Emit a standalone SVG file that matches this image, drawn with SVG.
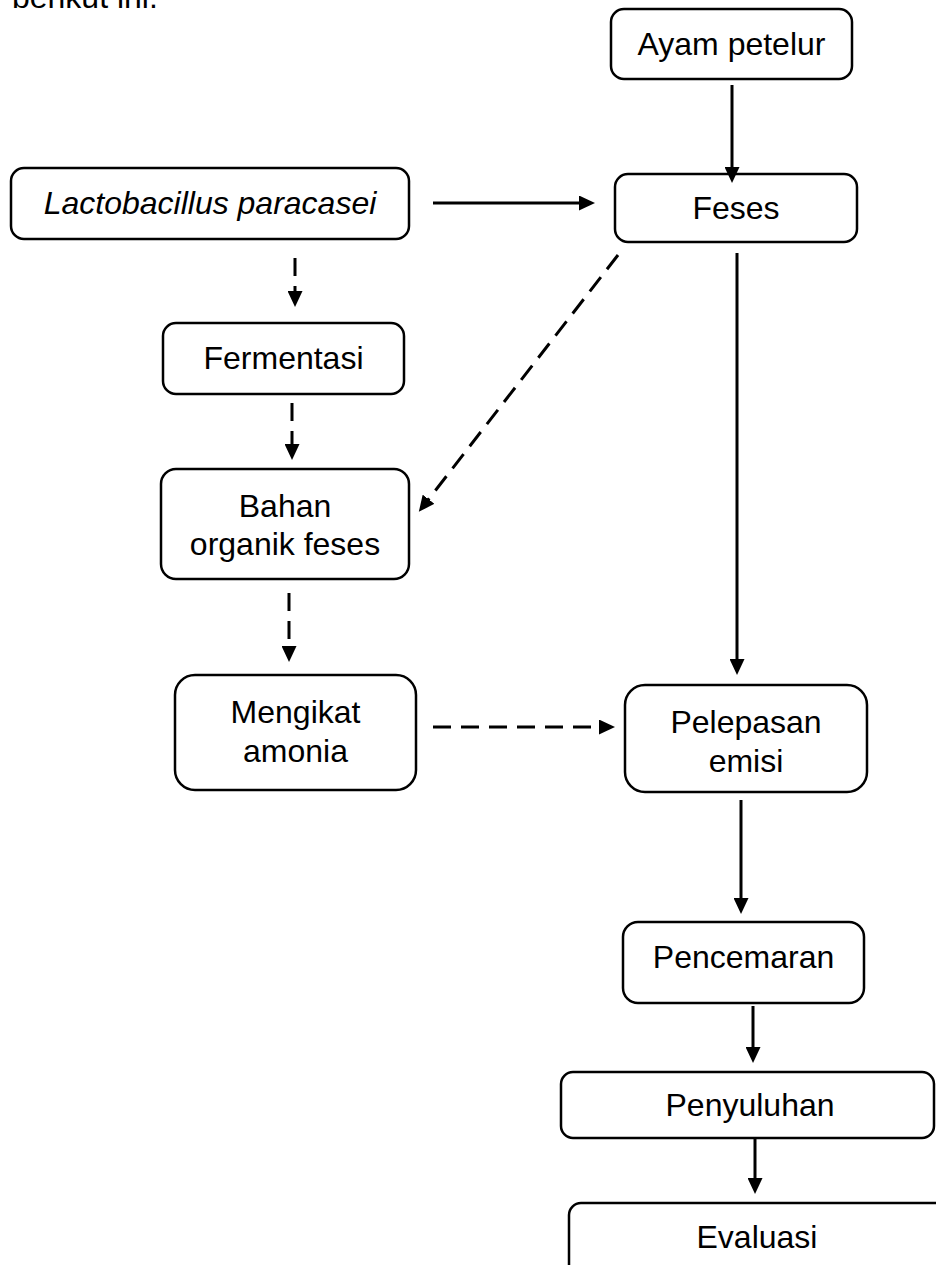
<svg xmlns="http://www.w3.org/2000/svg" width="936" height="1265" viewBox="0 0 936 1265">
<defs>
<marker id="ah" markerUnits="userSpaceOnUse" markerWidth="16" markerHeight="15" refX="1" refY="7.5" orient="auto" viewBox="0 0 16 15">
<path d="M0,0 L16,7.5 L0,15 z" fill="#000"/>
</marker>
<style>
.box{fill:#fff;stroke:#000;stroke-width:2.5}
.t{font-family:"Liberation Sans",Arial,sans-serif;font-size:32px;fill:#000;text-anchor:middle}
.solid{stroke:#000;stroke-width:3;fill:none;marker-end:url(#ah)}
.dash{stroke:#000;stroke-width:3;fill:none;stroke-dasharray:18 10;marker-end:url(#ah)}
</style>
</defs>
<rect width="936" height="1265" fill="#fff"/>
<text x="12" y="8" style="font-family:'Liberation Sans',Arial,sans-serif;font-size:32px">berikut ini.</text>
<g id="ayam"><rect class="box" x="611" y="9" width="241" height="70" rx="13"/><text class="t" x="731.5" y="55">Ayam petelur</text></g>
<g id="feses"><rect class="box" x="615" y="174" width="242" height="68" rx="13"/><text class="t" x="736" y="219">Feses</text></g>
<g id="lacto"><rect class="box" x="11" y="168" width="398" height="71" rx="13"/><text class="t" x="210" y="214" font-style="italic">Lactobacillus paracasei</text></g>
<g id="fermentasi"><rect class="box" x="163" y="323" width="241" height="71" rx="13"/><text class="t" x="283.5" y="369">Fermentasi</text></g>
<g id="bahan"><rect class="box" x="161" y="469" width="248" height="110" rx="15"/><text class="t" x="285" y="517">Bahan</text><text class="t" x="285" y="555">organik feses</text></g>
<g id="mengikat"><rect class="box" x="175" y="675" width="241" height="115" rx="20"/><text class="t" x="295.5" y="723">Mengikat</text><text class="t" x="295.5" y="762">amonia</text></g>
<g id="pelepasan"><rect class="box" x="625" y="685" width="242" height="107" rx="20"/><text class="t" x="746" y="733">Pelepasan</text><text class="t" x="746" y="772">emisi</text></g>
<g id="pencemaran"><rect class="box" x="623" y="922" width="241" height="81" rx="15"/><text class="t" x="743.5" y="968">Pencemaran</text></g>
<g id="penyuluhan"><rect class="box" x="561" y="1072" width="373" height="66" rx="12"/><text class="t" x="750" y="1116">Penyuluhan</text></g>
<g id="evaluasi"><rect class="box" x="569" y="1203" width="400" height="100" rx="12"/><text class="t" x="757" y="1248">Evaluasi</text></g>
<g id="connectors">
<line class="solid" x1="732" y1="85" x2="732" y2="168"/>
<line class="solid" x1="433" y1="203" x2="580" y2="203"/>
<line class="solid" x1="737" y1="253" x2="737" y2="660"/>
<line class="dash" x1="295" y1="258" x2="295" y2="292"/>
<line class="dash" x1="292" y1="403" x2="292" y2="445"/>
<line class="dash" x1="618" y1="255" x2="428" y2="500"/>
<line class="dash" x1="289" y1="593" x2="289" y2="647"/>
<line class="dash" x1="433" y1="727" x2="600" y2="727"/>
<line class="solid" x1="741" y1="800" x2="741" y2="899"/>
<line class="solid" x1="753" y1="1006" x2="753" y2="1048"/>
<line class="solid" x1="755" y1="1138" x2="755" y2="1179"/>
</g>
</svg>
